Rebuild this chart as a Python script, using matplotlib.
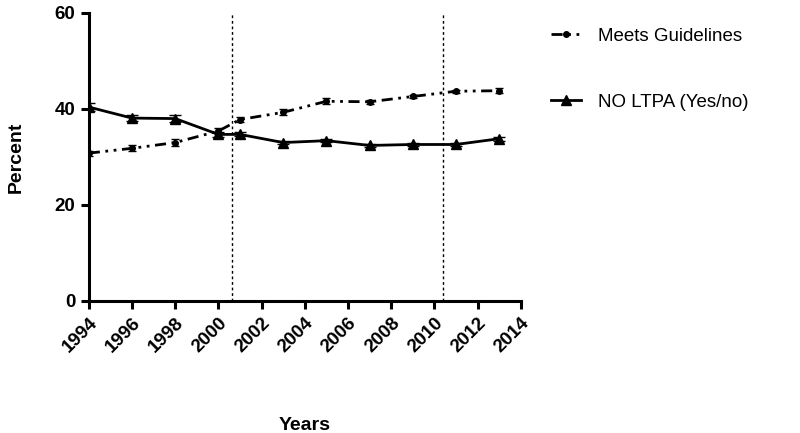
import matplotlib
matplotlib.use("Agg")
import matplotlib.pyplot as plt
from matplotlib.lines import Line2D

plt.rcParams['font.family'] = ['Liberation Sans', 'DejaVu Sans']

years = [1994, 1996, 1998, 2000, 2001, 2003, 2005, 2007, 2009, 2011, 2013]
meets = [30.8, 31.8, 33.0, 35.4, 37.8, 39.3, 41.6, 41.5, 42.6, 43.7, 43.8]
meets_err = [0.5, 0.6, 0.8, 0.6, 0.5, 0.6, 0.6, 0.4, 0.4, 0.3, 0.5]
no_ltpa = [40.4, 38.1, 38.0, 34.7, 34.7, 33.0, 33.4, 32.4, 32.6, 32.6, 33.8]
no_ltpa_err = [0.9, 0.6, 0.8, 0.5, 0.4, 0.3, 0.3, 0.3, 0.3, 0.3, 0.4]
cut_years = [2000.65, 2010.4]
xticks = list(range(1994, 2015, 2))
yticks = [0, 20, 40, 60]

meets_ls = (0, (4, 2, 1, 2, 1, 2))

fig = plt.figure(figsize=(8, 4.33), dpi=100)
ax = fig.add_axes([0.111, 0.305, 0.54, 0.665])

ax.errorbar(years, meets, yerr=meets_err, color='black', lw=2,
            linestyle=meets_ls, marker='o', markersize=4,
            capsize=3, elinewidth=1.5)
ax.errorbar(years, no_ltpa, yerr=no_ltpa_err, color='black', lw=2,
            linestyle='-', marker='^', markersize=7,
            capsize=4, elinewidth=1.5)

for c in cut_years:
    ax.axvline(c, color='black', lw=1, linestyle=(0, (2, 2)))

ax.set_xlim(1994, 2014)
ax.set_ylim(0, 60)
ax.set_xticks(xticks)
ax.set_yticks(yticks)
ax.set_xticklabels([str(x) for x in xticks], rotation=45, ha='right',
                   rotation_mode='anchor', fontsize=13.5, fontweight='bold')
ax.set_yticklabels([str(y) for y in yticks], fontsize=13.5, fontweight='bold')

for s in ['top', 'right']:
    ax.spines[s].set_visible(False)
for s in ['left', 'bottom']:
    ax.spines[s].set_linewidth(2.2)
ax.tick_params(width=2.2, length=6)

ax.set_xlabel('Years', fontsize=14, fontweight='bold', labelpad=44)
ax.set_ylabel('Percent', fontsize=14, fontweight='bold', labelpad=22)

handles = [
    Line2D([], [], color='black', lw=2, linestyle=meets_ls, marker='o',
           markersize=4, markevery=[1]),
    Line2D([], [], color='black', lw=2, linestyle='-', marker='^',
           markersize=7),
]
labels = ['Meets Guidelines', 'NO LTPA (Yes/no)']
fig.legend(handles, labels, loc='upper left', bbox_to_anchor=(0.668, 0.975),
           frameon=False, fontsize=13.5, labelspacing=2.6, handlelength=1.6,
           handletextpad=0.9)

fig.savefig('out.png', dpi=100)
